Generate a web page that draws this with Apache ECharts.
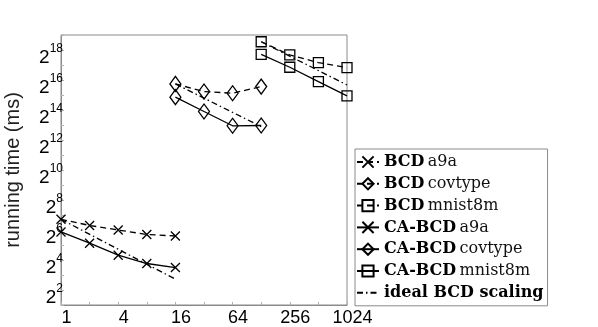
<!DOCTYPE html>
<html>
<head>
<meta charset="utf-8">
<script src="https://cdn.jsdelivr.net/npm/echarts@6/dist/echarts.min.js"></script>
<style>
  html, body { margin: 0; padding: 0; background: #fff; }
  #main { width: 598px; height: 327px; }
</style>
</head>
<body>
<div id="main"></div>
<script>
// processors (x) and running time in ms (y)
var procA9a = [1, 2, 4, 8, 16]
var procCov = [16, 32, 64, 128]
var procMnist = [128, 256, 512, 1024]

var bcdA9a = [105, 79, 64, 52, 48.5]
var caA9a = [58.5, 34.8, 20, 13.6, 11.3]
var bcdCov = [54700, 38400, 35600, 48300]
var caCov = [29700, 15300, 7900, 8000]
var bcdMnist = [383800, 208500, 146400, 115700]
var caMnist = [214400, 118100, 60700, 31400]

// ideal scaling segments: [startProc, endProc], [startTime, endTime]
var idealProcs = [[1, 16], [16, 128], [128, 1024]]
var idealTimes = [[105, 6.6], [54700, 7600], [383800, 52100]]

// tick values
var xLabelTicks = [1, 4, 16, 64, 256, 1024]
var xMarkTicks = [1, 2, 4, 8, 16, 32, 64, 128, 256, 512, 1024]
var yLabelTicks = [4, 16, 64, 256, 1024, 4096, 16384, 65536, 262144]
var yExponents = [2, 4, 6, 8, 10, 12, 14, 16, 18]
var yMarkTicks = [2, 4, 8, 16, 32, 64, 128, 256, 512, 1024, 2048, 4096, 8192, 16384, 32768, 65536, 131072, 262144, 524288]

var myChart = echarts.init(document.getElementById('main'))

function pairs(xs, ys) {
	return xs.map(function (x, i) { return [x, ys[i]] })
}

var crossPath = 'path://M0,0L10,10M10,0L0,10'

function mkSeries(name, xs, ys, symbol, size, dash) {
	return {
		name: name,
		type: 'line',
		data: pairs(xs, ys),
		symbol: symbol,
		symbolSize: size,
		showAllSymbol: true,
		animation: false,
		lineStyle: { color: '#000', width: 1.3, type: dash },
		itemStyle: { color: 'rgba(255,255,255,0)', borderColor: '#000', borderWidth: 1.3 },
	}
}

var series = [
	mkSeries('BCD a9a', procA9a, bcdA9a, crossPath, 9, [6, 4]),
	mkSeries('BCD covtype', procCov, bcdCov, 'diamond', [11, 15], [6, 4]),
	mkSeries('BCD mnist8m', procMnist, bcdMnist, 'rect', 10, [6, 4]),
	mkSeries('CA-BCD a9a', procA9a, caA9a, crossPath, 9, 'solid'),
	mkSeries('CA-BCD covtype', procCov, caCov, 'diamond', [11, 15], 'solid'),
	mkSeries('CA-BCD mnist8m', procMnist, caMnist, 'rect', 10, 'solid'),
]
idealProcs.forEach(function (xs, i) {
	var s = mkSeries('ideal BCD scaling', xs, idealTimes[i], 'none', 0, [6, 3, 1.5, 3])
	s.itemStyle = { color: 'rgba(0,0,0,0)', borderColor: 'rgba(0,0,0,0)', borderWidth: 0 }
	series.push(s)
})

var option = {
	animation: false,
	grid: {
		left: 61, right: 251, top: 35, bottom: 21,
		show: true, borderColor: '#8a8a8a', borderWidth: 1,
	},
	legend: {
		orient: 'vertical',
		left: 355,
		top: 149,
		itemWidth: 22,
		itemHeight: 14,
		itemGap: 5.8,
		padding: [5, 4, 5, 1],
		borderColor: '#8a8a8a',
		borderWidth: 1,
		data: ['BCD a9a', 'BCD covtype', 'BCD mnist8m', 'CA-BCD a9a', 'CA-BCD covtype', 'CA-BCD mnist8m', 'ideal BCD scaling'],
		formatter: function (name) {
			if (name.indexOf('ideal') === 0) return '{b|' + name + '}'
			var i = name.indexOf(' ')
			return '{b|' + name.slice(0, i) + '} {n|' + name.slice(i + 1) + '}'
		},
		textStyle: {
			rich: {
				b: { fontFamily: 'DejaVu Serif', fontWeight: 'bold', fontSize: 16, color: '#000' },
				n: { fontFamily: 'DejaVu Serif', fontSize: 16, color: '#111' },
			},
		},
	},
	xAxis: {
		type: 'log',
		logBase: 2,
		min: 1,
		max: 1024,
		splitLine: { show: false },
		axisLine: { lineStyle: { color: '#8a8a8a' } },
		axisTick: { inside: true, length: 3, customValues: xMarkTicks, lineStyle: { color: '#b0b0b0' } },
		axisLabel: {
			margin: 4,
			customValues: xLabelTicks,
			showMinLabel: true,
			showMaxLabel: true,
			hideOverlap: false,
			formatter: function (v) {
				return '{v|' + Math.round(v) + '}'
			},
			rich: { v: { fontFamily: 'Liberation Sans', fontSize: 18, color: '#000', padding: [0, 0, 0, 11] } },
		},
	},
	yAxis: {
		type: 'log',
		logBase: 2,
		min: 2,
		max: 524288,
		name: 'running time (ms)',
		nameLocation: 'middle',
		nameGap: 38,
		nameTextStyle: { fontFamily: 'Liberation Sans', fontSize: 20, color: '#222' },
		splitLine: { show: false },
		axisLine: { lineStyle: { color: '#8a8a8a' } },
		axisTick: { inside: true, length: 3, customValues: yMarkTicks, lineStyle: { color: '#b0b0b0' } },
		axisLabel: {
			margin: -2,
			padding: [10, 0, 0, 0],
			customValues: yLabelTicks,
			hideOverlap: false,
			formatter: function (v) {
				var k = yLabelTicks.indexOf(Math.round(v))
				return '{b|2}{e|' + yExponents[k] + '}'
			},
			rich: {
				b: { fontFamily: 'Liberation Sans', fontSize: 19, color: '#000', verticalAlign: 'bottom', lineHeight: 24 },
				e: { fontFamily: 'Liberation Sans', fontSize: 12, color: '#000', verticalAlign: 'top', lineHeight: 24 },
			},
		},
	},
	series: series,
}
myChart.setOption(option)
</script>
</body>
</html>
